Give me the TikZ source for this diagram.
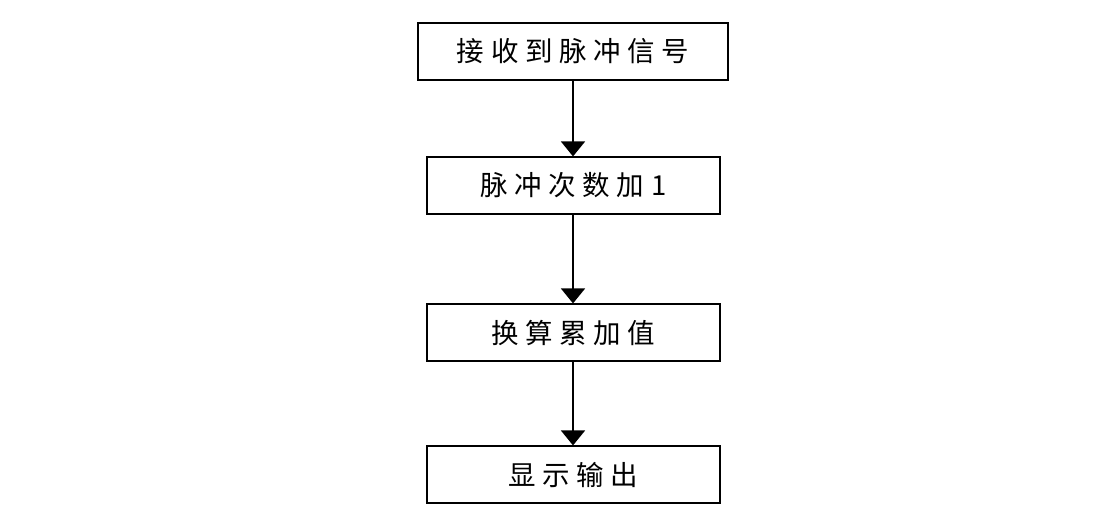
\documentclass[tikz,border=0pt]{standalone}
\usepackage{fontspec}
\newfontfamily\cjk[LetterSpace=24]{Noto Sans CJK SC}
\usetikzlibrary{arrows.meta}
\begin{document}
\begin{tikzpicture}[x=1pt,y=-1pt,
  stepbox/.style={draw=black,line width=1.2pt,minimum height=57pt,inner sep=0pt,font=\cjk\fontsize{27.5}{27.5}\selectfont},
  flow/.style={line width=1.8pt,-{Triangle[length=15pt,width=24pt]}}]
\useasboundingbox (0,0) rectangle (1102,515);
\node[stepbox,minimum width=310pt] (a) at (573,51.5) {接收到脉冲信号};
\node[stepbox,minimum width=293pt] (b) at (573.5,185.5) {脉冲次数加1};
\node[stepbox,minimum width=293pt] (c) at (573.5,332.5) {换算累加值};
\node[stepbox,minimum width=293pt] (d) at (573.5,474.5) {显示输出};
\draw[flow] (a.south -| 573,0) -- (b.north -| 573,0);
\draw[flow] (b.south -| 573,0) -- (c.north -| 573,0);
\draw[flow] (c.south -| 573,0) -- (d.north -| 573,0);
\end{tikzpicture}
\end{document}
